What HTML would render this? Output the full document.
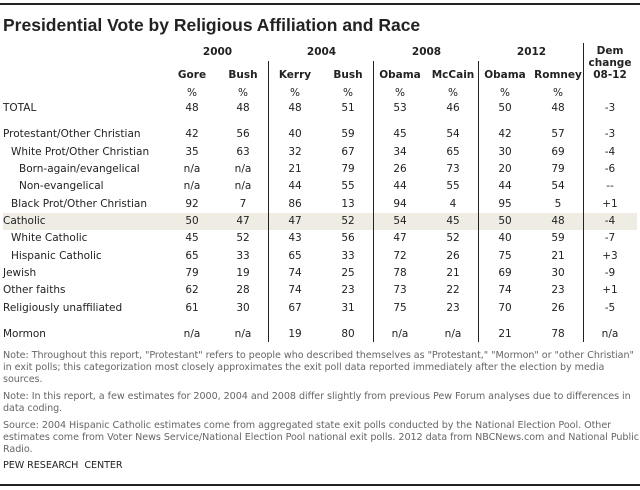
<!DOCTYPE html>
<html><head><meta charset="utf-8"><style>
body{margin:0;width:640px;height:490px;background:#fff;position:relative;overflow:hidden;font-family:"DejaVu Sans","Liberation Sans",sans-serif;}
.a{position:absolute;white-space:nowrap;}
.c{transform:translateX(-50%);text-align:center;}
.t{font-size:10.5px;color:#222;line-height:12px;}
.h{font-size:10.5px;font-weight:bold;color:#222;line-height:12px;}
.n{font-size:9.6px;color:#666;line-height:11.8px;font-family:"DejaVu Sans",sans-serif;left:3px;letter-spacing:-0.05px;}
</style></head><body>
<div class="a" style="left:0;top:3px;width:640px;height:2px;background:#222"></div>
<div class="a" style="left:3px;top:15px;font-family:'Liberation Sans',sans-serif;font-weight:bold;font-size:17.5px;color:#222">Presidential Vote by Religious Affiliation and Race</div>
<div class="a" style="left:3px;top:213px;width:634px;height:17px;background:#efece4"></div>
<div id="tbl"></div>
<div class="a n" style="top:350px">Note: Throughout this report, "Protestant" refers to people who described themselves as "Protestant," "Mormon" or "other Christian"<br>in exit polls; this categorization most closely approximates the exit poll data reported immediately after the election by media<br>sources.</div>
<div class="a n" style="top:391px">Note: In this report, a few estimates for 2000, 2004 and 2008 differ slightly from previous Pew Forum analyses due to differences in<br>data coding.</div>
<div class="a n" style="top:420px">Source: 2004 Hispanic Catholic estimates come from aggregated state exit polls conducted by the National Election Pool. Other<br>estimates come from Voter News Service/National Election Pool national exit polls. 2012 data from NBCNews.com and National Public<br>Radio.</div>
<div class="a" style="left:3px;top:460px;font-size:9.6px;color:#222;font-family:'DejaVu Sans',sans-serif;letter-spacing:-0.05px">PEW RESEARCH&nbsp; CENTER</div>
<div class="a" style="left:0;top:484px;width:640px;height:2px;background:#222"></div>
<script>
const years=["2000","2004","2008","2012"];
const cands=["Gore","Bush","Kerry","Bush","Obama","McCain","Obama","Romney"];
const labels=["TOTAL","Protestant/Other Christian","White Prot/Other Christian","Born-again/evangelical","Non-evangelical","Black Prot/Other Christian","Catholic","White Catholic","Hispanic Catholic","Jewish","Other faiths","Religiously unaffiliated","Mormon"];
const indents=[0,0,1,2,2,1,0,1,1,0,0,0,0];
const rowsData=[
["48","48","48","51","53","46","50","48","-3"],
["42","56","40","59","45","54","42","57","-3"],
["35","63","32","67","34","65","30","69","-4"],
["n/a","n/a","21","79","26","73","20","79","-6"],
["n/a","n/a","44","55","44","55","44","54","--"],
["92","7","86","13","94","4","95","5","+1"],
["50","47","47","52","54","45","50","48","-4"],
["45","52","43","56","47","52","40","59","-7"],
["65","33","65","33","72","26","75","21","+3"],
["79","19","74","25","78","21","69","30","-9"],
["62","28","74","23","73","22","74","23","+1"],
["61","30","67","31","75","23","70","26","-5"],
["n/a","n/a","19","80","n/a","n/a","21","78","n/a"]];
const colX=[192,243,295,348,400,453,505,558,610];
const rowY=[108,134,152,169,186,204,221,238,256,273,290,308,334];
const T=document.getElementById('tbl');
function add(cls,x,y,txt,c){const d=document.createElement('div');d.className='a '+cls+(c?' c':'');d.style.left=x+'px';d.style.top=(y-6)+'px';d.textContent=txt;T.appendChild(d);return d;}
years.forEach((y,i)=>{const d=add('h',(colX[2*i]+colX[2*i+1])/2,52,y,true);

});
cands.forEach((c,i)=>{const d=add('h',colX[i],75,c,true);


const p=add('t',colX[i],93,'%',true);

});
["Dem","change","08-12"].forEach((s,i)=>{const d=add('h',colX[8],51+i*12,s,true);

});
labels.forEach((l,r)=>{const d=add('t',3+indents[r]*8,rowY[r],l,false);


rowsData[r].forEach((v,c)=>{const e=add('t',colX[c],rowY[r],v,true);

});});
[[268,61],[373,61],[478,61],[583,43]].forEach(([x,t])=>{const d=document.createElement('div');d.className='a';d.style.cssText=`left:${x}px;top:${t}px;width:1px;height:${342-t}px;background:#222`;


T.appendChild(d);});
</script>
</body></html>
